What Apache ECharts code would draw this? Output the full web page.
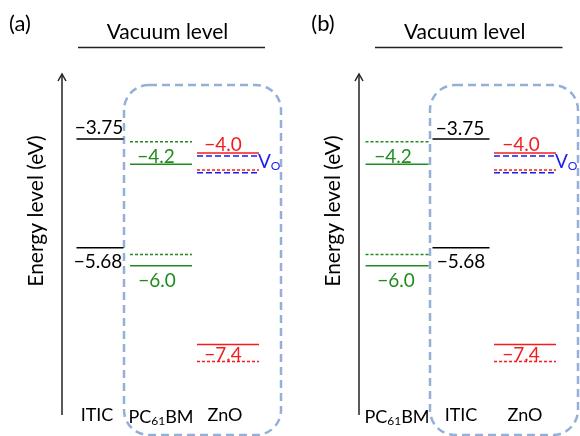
<!DOCTYPE html>
<html>
<head>
<meta charset="utf-8">
<style>
  html, body { margin: 0; padding: 0; background: #fff; }
  #chart { width: 580px; height: 436px; }
</style>
<script src="https://cdn.jsdelivr.net/npm/echarts@6/dist/echarts.min.js"></script>
</head>
<body>
<div id="chart"></div>
<script>
// Material order along the x axis of each panel
const panelACategories = ['ITIC', 'PC61BM', 'ZnO'];
const panelBCategories = ['PC61BM', 'ITIC', 'ZnO'];

// Energy levels in eV (LUMO first, HOMO second)
const iticLevels = [-3.75, -5.68];
const pcbmLevels = [-4.2, -6.0];
const pcbmInterfaceLevels = [-3.80, -5.80];
const znoLevels = [-4.0, -7.4];
const znoInterfaceLevels = [-4.30, -7.70];
const vacancyLevels = [-4.05, -4.35];

// Energy range shown on the (hidden) vertical scale
const energyMin = -8;
const energyMax = -2;

const FONT = 'Lato, "Open Sans", sans-serif';
const GREEN = '#1f8c1f';
const RED = '#f41c1c';
const BLUE = '#1c1cf0';
const BOX = '#94b0d8';

// Per-panel geometry of the level segments and their value labels
const SEGMENTS = {
  a: {
    ITIC:   { dx: 3, w: 47, labelDx: [-1, -2], labelDy: [-11, 14.5] },
    PC61BM: { dx: 0, w: 62, labelDx: [-5, -4], labelDy: [-7.5, 15] },
    ZnO:    { dx: 3, w: 62, labelDx: [-5, -5], labelDy: [-8, 10] }
  },
  b: {
    PC61BM: { dx: 0, w: 63, labelDx: [-4, -1], labelDy: [-7.5, 15] },
    ITIC:   { dx: 0, w: 57, labelDx: [-1, 0], labelDy: [-10.5, 14.5] },
    ZnO:    { dx: 0, w: 62, labelDx: [-4, -4], labelDy: [-8, 10] }
  }
};

// Line looks for each kind of level
const LOOKS = {
  itic:     { color: '#000', dash: null, width: 1.5, labelled: true },
  pcbm:     { color: GREEN, dash: null, width: 1.5, labelled: true },
  pcbmIf:   { color: GREEN, dash: [3, 2], width: 1.4, labelled: false },
  zno:      { color: RED, dash: null, width: 1.5, labelled: true },
  znoIf:    { color: RED, dash: [3, 2], width: 1.5, labelled: false },
  vacancy:  { color: BLUE, dash: [6, 3], width: 1.5, labelled: false, tag: true }
};

function formatEnergy(v) {
  const abs = Math.abs(v);
  const digits = Math.round(abs * 100) % 10 === 0 ? 1 : 2;
  return (v < 0 ? '\u2212' : '') + abs.toFixed(digits);
}

function levelSeries(panel, gridIndex, categories, material, values, lookName) {
  const seg = SEGMENTS[panel][material];
  const look = LOOKS[lookName];
  const col = categories.indexOf(material);
  return {
    type: 'custom',
    xAxisIndex: gridIndex,
    yAxisIndex: gridIndex,
    silent: true,
    z: 5,
    data: values.map(v => [col, v]),
    renderItem(params, api) {
      const p = api.coord([api.value(0), api.value(1)]);
      const cx = p[0] + seg.dx;
      const y = p[1];
      const children = [{
        type: 'line',
        shape: { x1: cx - seg.w / 2, y1: y, x2: cx + seg.w / 2, y2: y },
        style: { stroke: look.color, lineWidth: look.width, lineDash: look.dash }
      }];
      const i = params.dataIndex;
      if (look.labelled) {
        children.push({
          type: 'text',
          style: {
            text: formatEnergy(api.value(1)),
            x: cx + seg.labelDx[i],
            y: y + seg.labelDy[i],
            fill: look.color,
            font: '19px ' + FONT,
            align: 'center',
            verticalAlign: 'middle'
          }
        });
      }
      if (look.tag && i === 0) {
        // oxygen-vacancy marker next to the donor levels
        children.push({
          type: 'text',
          style: {
            text: 'V{o|O}',
            x: cx + seg.w / 2 - 1,
            y: y + 6,
            fill: BLUE,
            font: '19px ' + FONT,
            align: 'left',
            verticalAlign: 'middle',
            rich: {
              o: { fontSize: 12, fontFamily: 'Lato', fill: BLUE, padding: [9, 0, 0, 0] }
            }
          }
        });
      }
      return { type: 'group', children };
    }
  };
}

function panelSeries(panel, gridIndex, categories) {
  return [
    levelSeries(panel, gridIndex, categories, 'ITIC', iticLevels, 'itic'),
    levelSeries(panel, gridIndex, categories, 'PC61BM', pcbmInterfaceLevels, 'pcbmIf'),
    levelSeries(panel, gridIndex, categories, 'PC61BM', pcbmLevels, 'pcbm'),
    levelSeries(panel, gridIndex, categories, 'ZnO', znoInterfaceLevels, 'znoIf'),
    levelSeries(panel, gridIndex, categories, 'ZnO', vacancyLevels, 'vacancy'),
    levelSeries(panel, gridIndex, categories, 'ZnO', znoLevels, 'zno')
  ];
}

function categoryAxis(gridIndex, categories) {
  return {
    type: 'category',
    gridIndex,
    data: categories,
    axisLine: { show: false },
    axisTick: { show: false },
    splitLine: { show: false },
    axisLabel: {
      interval: 0,
      hideOverlap: false,
      margin: 28,
      color: '#000',
      fontSize: 18,
      fontFamily: 'Lato',
      formatter: v => v === 'PC61BM' ? 'PC{sub|61}BM' : v,
      rich: {
        sub: { fontSize: 12, fontFamily: 'Lato', color: '#000', padding: [9, 0, 0, 0] }
      }
    }
  };
}

function energyAxis(gridIndex) {
  return { type: 'value', gridIndex, min: energyMin, max: energyMax, show: false };
}

// Decorations: panel tags, vacuum level, energy arrow and the dashed grouping box
function panelDecor(tag, tagX, x0, vacL, vacR, boxL, boxR) {
  const arrowX = x0;
  return [
    { type: 'text', style: { text: tag, x: tagX, y: 24, font: '22px ' + FONT, fill: '#000', align: 'center', verticalAlign: 'middle' } },
    { type: 'text', style: { text: 'Vacuum level', x: (vacL + vacR) / 2 - 4, y: 32, font: '21px ' + FONT, fill: '#000', align: 'center', verticalAlign: 'middle' } },
    { type: 'line', shape: { x1: vacL, y1: 47.5, x2: vacR, y2: 47.5 }, style: { stroke: '#222', lineWidth: 1.5 } },
    { type: 'line', shape: { x1: arrowX, y1: 74, x2: arrowX, y2: 415 }, style: { stroke: '#222', lineWidth: 1.5 } },
    { type: 'polyline', shape: { points: [[arrowX - 4, 81], [arrowX, 74], [arrowX + 4, 81]] }, style: { stroke: '#222', lineWidth: 1.5, fill: null } },
    { type: 'text', rotation: Math.PI / 2, x: arrowX - 26, y: 211,
      style: { text: 'Energy level (eV)', x: 0, y: 0, font: '21px ' + FONT, fill: '#000', align: 'center', verticalAlign: 'middle' } },
    { type: 'rect', z: 1, shape: { x: boxL, y: 85, width: boxR - boxL, height: 350, r: 25 },
      style: { stroke: BOX, lineWidth: 2.5, lineDash: [8, 5], fill: null } }
  ];
}

const chart = echarts.init(document.getElementById('chart'));
chart.setOption({
  animation: false,
  grid: [
    { left: 65, width: 192, top: 40.44, height: 337.92 },
    { left: 365, width: 192, top: 40.44, height: 337.92 }
  ],
  xAxis: [categoryAxis(0, panelACategories), categoryAxis(1, panelBCategories)],
  yAxis: [energyAxis(0), energyAxis(1)],
  graphic: [
    ...panelDecor('(a)', 20, 62, 78, 265, 124, 281),
    ...panelDecor('(b)', 323, 359, 375, 562.5, 430, 578)
  ],
  series: [
    ...panelSeries('a', 0, panelACategories),
    ...panelSeries('b', 1, panelBCategories)
  ]
});
</script>
</body>
</html>
